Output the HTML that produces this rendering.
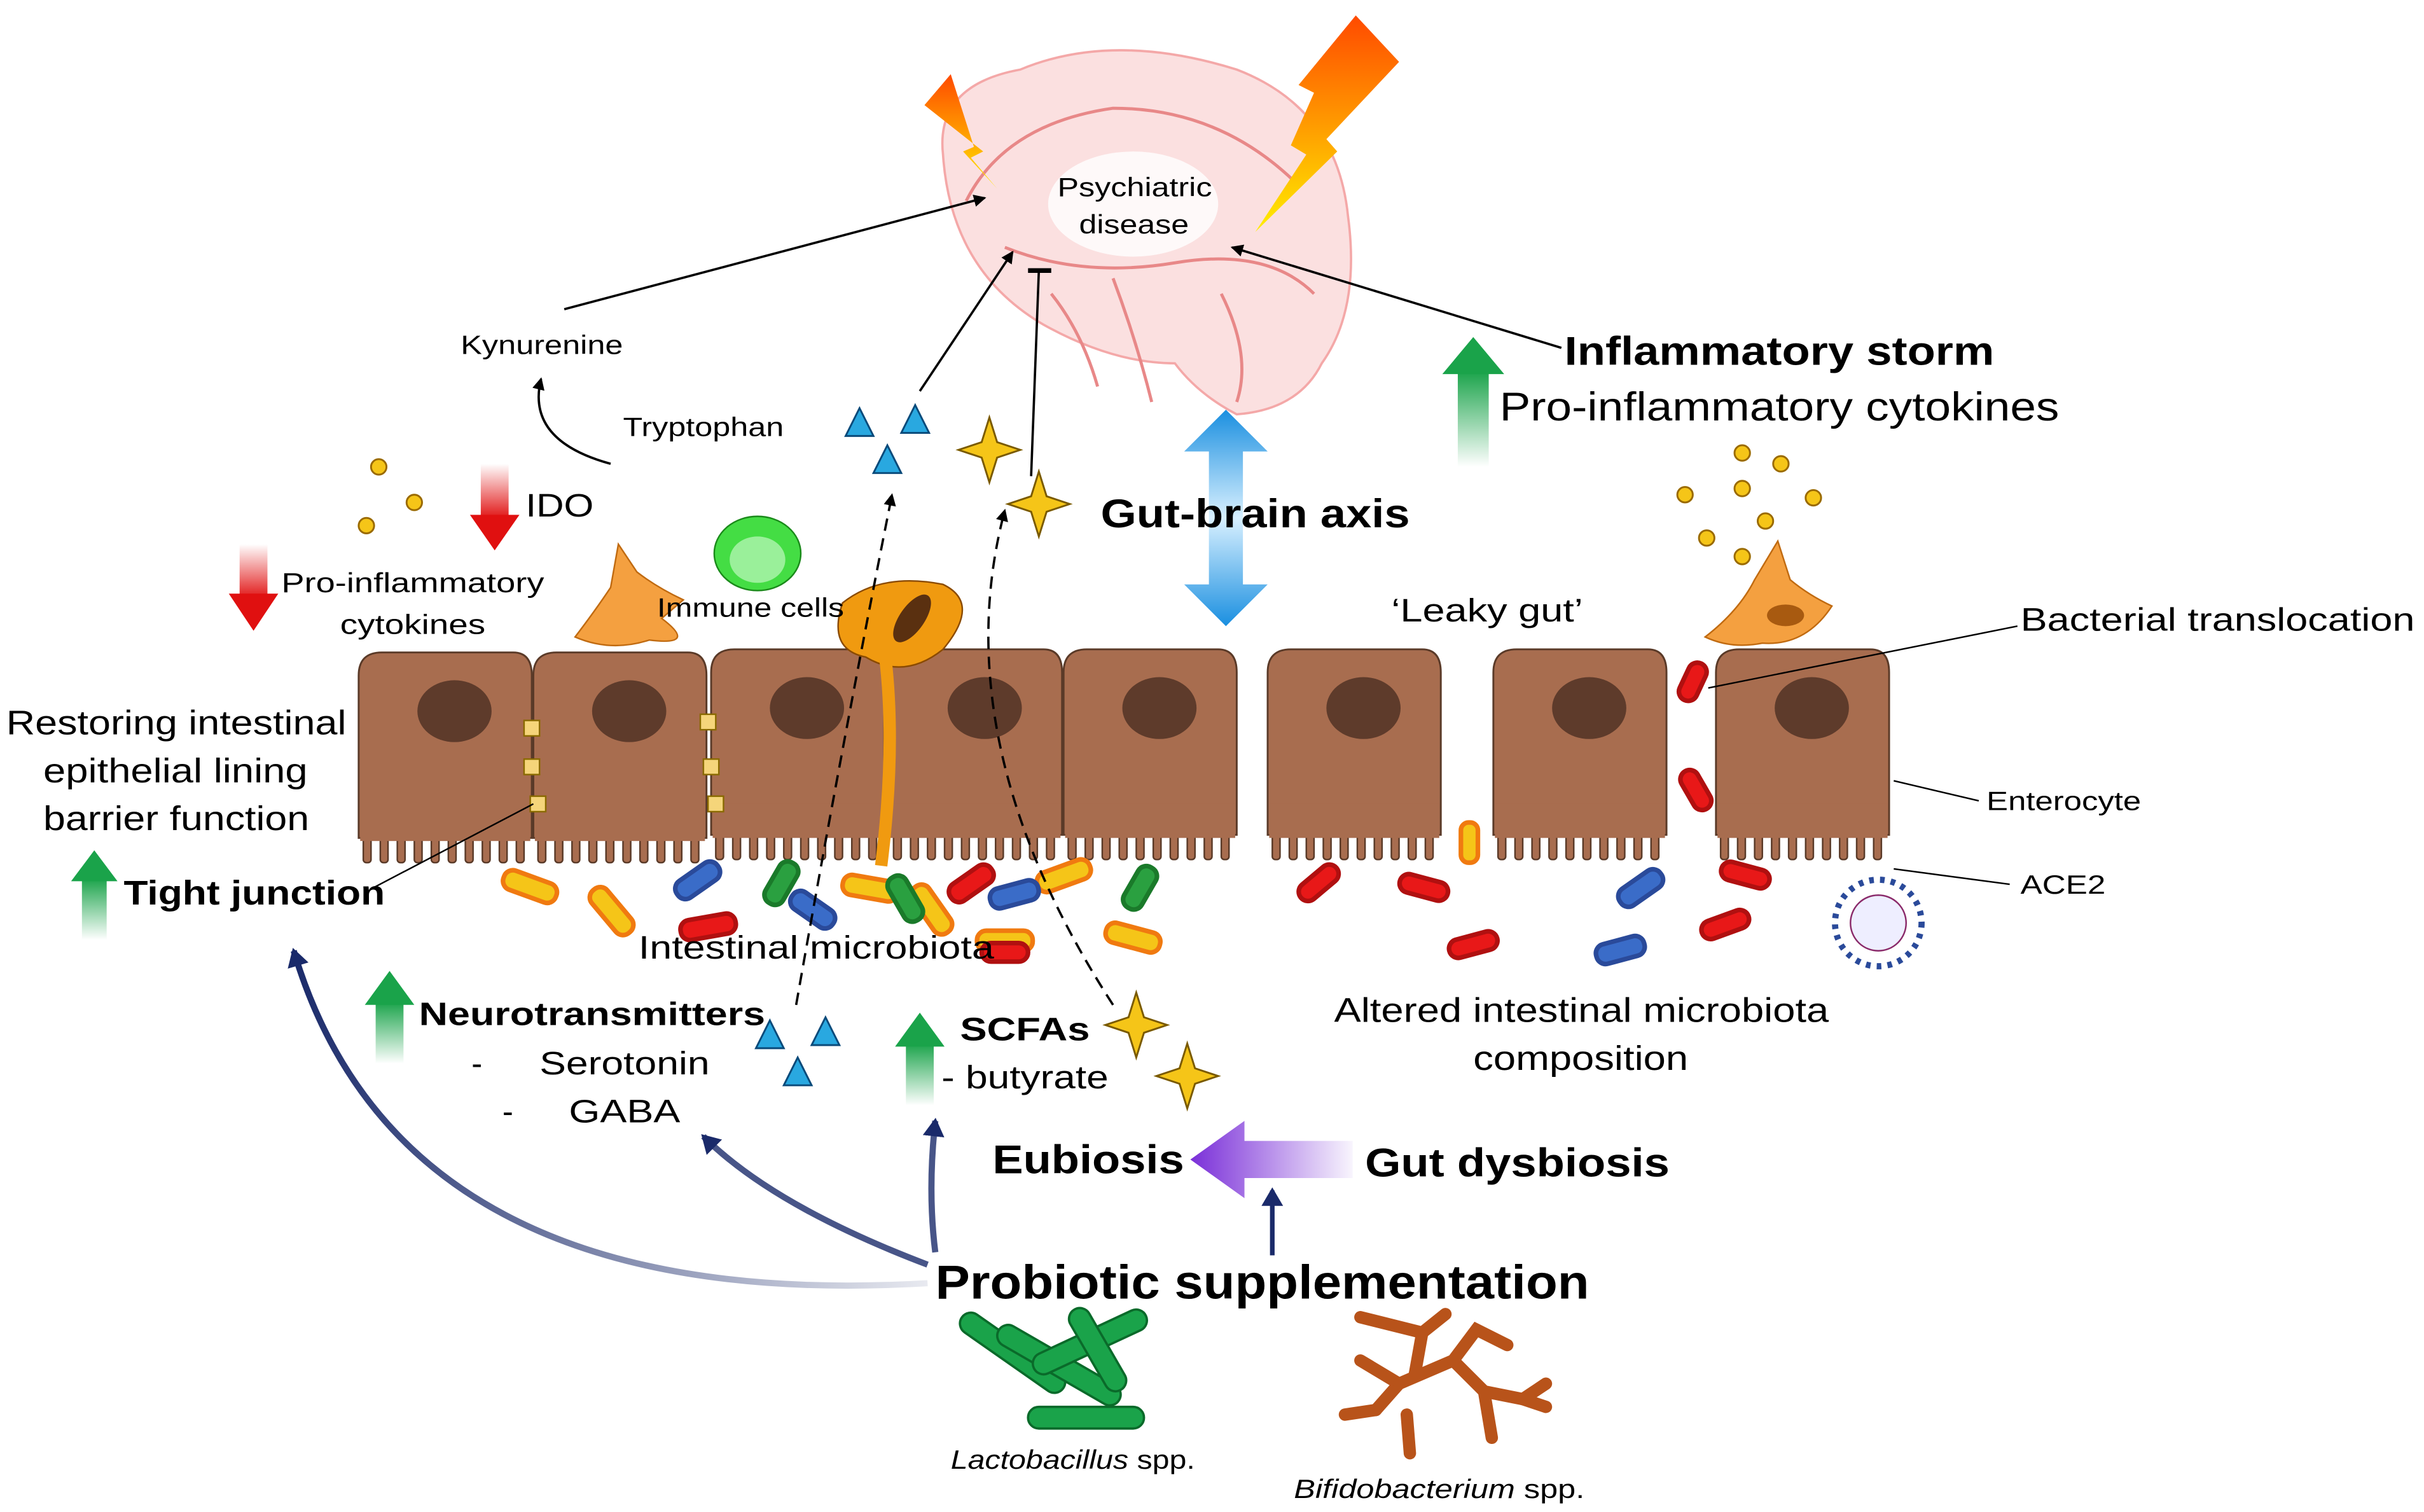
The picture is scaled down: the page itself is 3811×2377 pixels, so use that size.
<!DOCTYPE html>
<html><head><meta charset="utf-8"><style>html,body{margin:0;padding:0;background:#fff}svg{display:block}text{font-family:"Liberation Sans",sans-serif}</style></head><body>
<svg width="3811" height="2377" viewBox="0 0 1568 978" preserveAspectRatio="none" xmlns="http://www.w3.org/2000/svg">
<defs>
<linearGradient id="bolt" x1="0" y1="0" x2="0" y2="1"><stop offset="0" stop-color="#ff4a00"/><stop offset="0.5" stop-color="#ff9a00"/><stop offset="1" stop-color="#ffee00"/></linearGradient>
<linearGradient id="gb" x1="0" y1="0" x2="0" y2="1"><stop offset="0" stop-color="#1a8fe0"/><stop offset="0.5" stop-color="#d8f0ff"/><stop offset="1" stop-color="#1a8fe0"/></linearGradient>
<linearGradient id="gup" x1="0" y1="0" x2="0" y2="1"><stop offset="0" stop-color="#1aa34a"/><stop offset="1" stop-color="#1aa34a" stop-opacity="0"/></linearGradient>
<linearGradient id="rdn" x1="0" y1="1" x2="0" y2="0"><stop offset="0" stop-color="#e01010"/><stop offset="1" stop-color="#e01010" stop-opacity="0"/></linearGradient>
<linearGradient id="pur" x1="0" y1="0" x2="1" y2="0"><stop offset="0" stop-color="#7a2fd8"/><stop offset="1" stop-color="#7a2fd8" stop-opacity="0.05"/></linearGradient>
<linearGradient id="nav1" x1="1" y1="0" x2="0" y2="0"><stop offset="0" stop-color="#1a2a6a" stop-opacity="0.1"/><stop offset="1" stop-color="#1a2a6a"/></linearGradient>
<marker id="ah" markerWidth="8" markerHeight="8" refX="7" refY="4" orient="auto" markerUnits="userSpaceOnUse"><path d="M0,0L8,4L0,8z" fill="#000"/></marker>
<marker id="ahn" markerWidth="14" markerHeight="14" refX="10" refY="7" orient="auto" markerUnits="userSpaceOnUse"><path d="M0,0L12,7L0,14z" fill="#1a2a6a"/></marker>
<g id="cell"><path d="M0,15 Q0,0 15,0 L100,0 Q112,0 112,15 L112,120 L0,120Z" fill="#a86d4f" stroke="#5a3a28" stroke-width="1.2"/>
<g fill="#a86d4f" stroke="#5a3a28" stroke-width="1"><rect x="3" y="118" width="5" height="18" rx="2"/><rect x="14" y="118" width="5" height="18" rx="2"/><rect x="25" y="118" width="5" height="18" rx="2"/><rect x="36" y="118" width="5" height="18" rx="2"/><rect x="47" y="118" width="5" height="18" rx="2"/><rect x="58" y="118" width="5" height="18" rx="2"/><rect x="69" y="118" width="5" height="18" rx="2"/><rect x="80" y="118" width="5" height="18" rx="2"/><rect x="91" y="118" width="5" height="18" rx="2"/><rect x="102" y="118" width="5" height="18" rx="2"/></g>
<rect x="1" y="100" width="110" height="22" fill="#a86d4f"/>
<ellipse cx="62" cy="38" rx="24" ry="20" fill="#5e3b2b"/></g>
</defs>
<!-- brain -->
<path d="M610,100 Q605,55 660,45 Q720,20 800,45 Q865,70 872,140 Q880,200 855,235 Q840,265 800,268 Q775,255 760,235 Q720,235 675,210 Q615,175 610,100Z" fill="#fbe0e0" stroke="#f4a8a8" stroke-width="1.5"/>
<g fill="none" stroke="#e88888" stroke-width="2"><path d="M625,130 Q650,80 720,70 Q790,70 840,120"/><path d="M650,160 Q700,180 760,170 Q820,160 850,190"/><path d="M680,190 Q700,215 710,250"/><path d="M720,180 Q735,220 745,260"/><path d="M790,190 Q810,230 800,260"/></g>
<ellipse cx="733" cy="132" rx="55" ry="34" fill="#fff" opacity="0.8"/>
<text x="684" y="127" font-size="17" textLength="100" lengthAdjust="spacingAndGlyphs">Psychiatric</text><text x="698" y="151" font-size="17" textLength="71" lengthAdjust="spacingAndGlyphs">disease</text>
<path d="M598,68 L615,48 L630,95 L623,98 L645,122 L628,102 L636,98Z" fill="url(#bolt)"/>
<path d="M877,10 L905,40 L858,90 L865,98 L812,150 L845,100 L835,94 L850,60 L840,55Z" fill="url(#bolt)"/>
<!-- arrows to brain -->
<g stroke="#000" stroke-width="1.5" fill="none"><line x1="365" y1="200" x2="637" y2="128" marker-end="url(#ah)"/><line x1="1010" y1="225" x2="797" y2="160" marker-end="url(#ah)"/><line x1="595" y1="253" x2="655" y2="163" marker-end="url(#ah)"/><line x1="667" y1="308" x2="672" y2="175"/><line x1="665" y1="175" x2="680" y2="175" stroke-width="3"/>
<path d="M395,300 Q340,285 350,245" marker-end="url(#ah)"/></g>
<text x="298" y="229" font-size="17" textLength="105" lengthAdjust="spacingAndGlyphs">Kynurenine</text>
<text x="403" y="282" font-size="17" textLength="104" lengthAdjust="spacingAndGlyphs">Tryptophan</text>
<!-- gut-brain -->
<path d="M793,265 L820,292 L804,292 L804,378 L820,378 L793,405 L766,378 L782,378 L782,292 L766,292Z" fill="url(#gb)"/>
<text x="712" y="341" font-size="26" font-weight="bold" textLength="200" lengthAdjust="spacingAndGlyphs">Gut-brain axis</text>
<rect x="943" y="240" width="20" height="62" fill="url(#gup)"/><path d="M933,242 L953,218 L973,242Z" fill="#1aa34a"/>
<text x="1012" y="236" font-size="26" font-weight="bold" textLength="278" lengthAdjust="spacingAndGlyphs">Inflammatory storm</text>
<text x="970" y="272" font-size="26" textLength="362" lengthAdjust="spacingAndGlyphs">Pro-inflammatory cytokines</text>
<!-- left red arrows -->
<rect x="311" y="300" width="18" height="36" fill="url(#rdn)"/><path d="M304,333 L320,356 L336,333Z" fill="#e01010"/>
<text x="340" y="334" font-size="21" textLength="44" lengthAdjust="spacingAndGlyphs">IDO</text>
<rect x="155" y="352" width="18" height="36" fill="url(#rdn)"/><path d="M148,384 L164,408 L180,384Z" fill="#e01010"/>
<text x="182" y="383" font-size="18" textLength="170" lengthAdjust="spacingAndGlyphs">Pro-inflammatory</text><text x="220" y="410" font-size="18" textLength="94" lengthAdjust="spacingAndGlyphs">cytokines</text>
<g fill="#f5c518" stroke="#9a6a00" stroke-width="1.2"><circle cx="245" cy="302" r="5"/><circle cx="268" cy="325" r="5"/><circle cx="237" cy="340" r="5"/>
<circle cx="1127" cy="293" r="5"/><circle cx="1152" cy="300" r="5"/><circle cx="1090" cy="320" r="5"/><circle cx="1127" cy="316" r="5"/><circle cx="1173" cy="322" r="5"/><circle cx="1104" cy="348" r="5"/><circle cx="1142" cy="337" r="5"/><circle cx="1127" cy="360" r="5"/></g>
<!-- cells -->
<use href="#cell" x="232" y="422"/><use href="#cell" x="345" y="422"/><use href="#cell" x="460" y="420"/><use href="#cell" x="575" y="420"/><use href="#cell" x="688" y="420"/><use href="#cell" x="820" y="420"/><use href="#cell" x="966" y="420"/><use href="#cell" x="1110" y="420"/>
<g fill="#f5d57a" stroke="#8a6a00"><rect x="339" y="466" width="10" height="10"/><rect x="339" y="491" width="10" height="10"/><rect x="343" y="515" width="10" height="10"/><rect x="453" y="462" width="10" height="10"/><rect x="455" y="491" width="10" height="10"/><rect x="458" y="515" width="10" height="10"/></g>
<!-- immune cells -->
<path d="M372,412 Q385,395 395,380 L400,352 L412,370 Q425,380 442,388 L428,400 Q452,418 420,414 Q395,422 372,412Z" fill="#f4a040" stroke="#c06a10"/>
<ellipse cx="490" cy="358" rx="28" ry="24" fill="#44dd44" stroke="#1a8a1a"/><ellipse cx="490" cy="362" rx="18" ry="15" fill="#9af09a"/>
<path d="M545,390 Q570,370 610,378 Q635,390 610,420 Q585,440 560,425 Q535,420 545,390Z" fill="#f09a10" stroke="#8a4a00"/>
<path d="M572,420 Q580,480 570,560" stroke="#f09a10" stroke-width="8" fill="none"/>
<ellipse cx="590" cy="400" rx="8" ry="18" transform="rotate(35 590 400)" fill="#5a3010"/>
<text x="425" y="399" font-size="17" textLength="121" lengthAdjust="spacingAndGlyphs">Immune cells</text>
<path d="M1103,412 Q1125,395 1135,375 L1150,350 L1158,375 Q1170,385 1185,392 Q1168,418 1140,416 Q1120,420 1103,412Z" fill="#f4a040" stroke="#c06a10"/><ellipse cx="1155" cy="398" rx="12" ry="7" fill="#a85a10"/>
<text x="900" y="402" font-size="21" textLength="124" lengthAdjust="spacingAndGlyphs">‘Leaky gut’</text>
<text x="1307" y="408" font-size="21" textLength="255" lengthAdjust="spacingAndGlyphs">Bacterial translocation</text><line x1="1305" y1="405" x2="1105" y2="445" stroke="#000"/>
<text x="1285" y="524" font-size="17" textLength="100" lengthAdjust="spacingAndGlyphs">Enterocyte</text><line x1="1280" y1="518" x2="1225" y2="505" stroke="#000"/>
<text x="1307" y="578" font-size="17" textLength="55" lengthAdjust="spacingAndGlyphs">ACE2</text><line x1="1300" y1="572" x2="1225" y2="562" stroke="#000"/>
<circle cx="1215" cy="597" r="28" fill="#fff" stroke="#2a4a9a" stroke-width="4" stroke-dasharray="3 4"/><circle cx="1215" cy="597" r="18" fill="#eef" stroke="#8a2a6a"/>
<!-- bacteria -->
<g stroke-width="3">
<g fill="#f5c518" stroke="#f07a10"><rect x="325" y="567" width="36" height="13" rx="6" transform="rotate(20 343 573)"/><rect x="378" y="583" width="36" height="13" rx="6" transform="rotate(50 396 589)"/><rect x="545" y="568" width="36" height="13" rx="6" transform="rotate(10 563 574)"/><rect x="585" y="582" width="36" height="13" rx="6" transform="rotate(55 603 588)"/><rect x="670" y="560" width="36" height="13" rx="6" transform="rotate(-20 688 566)"/><rect x="715" y="600" width="36" height="13" rx="6" transform="rotate(15 733 606)"/><rect x="632" y="602" width="36" height="13" rx="6" transform="rotate(0 650 608)"/><rect x="938" y="540" width="26" height="11" rx="5" transform="rotate(90 951 545)"/></g>
<g fill="#3a6cc8" stroke="#2a4a9a"><rect x="435" y="563" width="32" height="13" rx="6" transform="rotate(-35 451 569)"/><rect x="510" y="582" width="32" height="13" rx="6" transform="rotate(35 526 588)"/><rect x="640" y="572" width="32" height="13" rx="6" transform="rotate(-15 656 578)"/><rect x="1045" y="568" width="32" height="13" rx="6" transform="rotate(-35 1061 574)"/><rect x="1032" y="608" width="32" height="13" rx="6" transform="rotate(-15 1048 614)"/></g>
<g fill="#e81818" stroke="#b01010"><rect x="440" y="593" width="36" height="13" rx="6" transform="rotate(-10 458 599)"/><rect x="612" y="565" width="32" height="13" rx="6" transform="rotate(-35 628 571)"/><rect x="838" y="565" width="30" height="12" rx="6" transform="rotate(-40 853 571)"/><rect x="905" y="568" width="32" height="12" rx="6" transform="rotate(15 921 574)"/><rect x="937" y="605" width="32" height="12" rx="6" transform="rotate(-15 953 611)"/><rect x="1100" y="592" width="32" height="12" rx="6" transform="rotate(-20 1116 598)"/><rect x="1113" y="560" width="32" height="12" rx="6" transform="rotate(15 1129 566)"/><rect x="1083" y="505" width="28" height="12" rx="6" transform="rotate(60 1097 511)"/><rect x="1082" y="435" width="26" height="12" rx="6" transform="rotate(-65 1095 441)"/><rect x="635" y="610" width="30" height="12" rx="6"/></g>
<g fill="#2aa040" stroke="#1a7a2a"><rect x="490" y="565" width="30" height="13" rx="6" transform="rotate(-60 505 571)"/><rect x="570" y="575" width="32" height="13" rx="6" transform="rotate(60 586 581)"/><rect x="722" y="568" width="30" height="13" rx="6" transform="rotate(-60 737 574)"/></g>
</g>
<text x="413" y="620" font-size="21" textLength="230" lengthAdjust="spacingAndGlyphs">Intestinal microbiota</text>
<!-- dashed pathways -->
<g stroke="#000" stroke-width="1.5" fill="none" stroke-dasharray="8 5"><path d="M515,650 Q545,480 577,320" marker-end="url(#ah)"/><path d="M720,650 Q610,480 650,330" marker-end="url(#ah)"/></g>
<g fill="#29a8e0" stroke="#0a4a7a" stroke-width="1.2"><path d="M556,264 L565,282 L547,282Z"/><path d="M592,262 L601,280 L583,280Z"/><path d="M574,288 L583,306 L565,306Z"/><path d="M498,660 L507,678 L489,678Z"/><path d="M534,658 L543,676 L525,676Z"/><path d="M516,684 L525,702 L507,702Z"/></g>
<g fill="#f5c518" stroke="#7a5a00" stroke-width="1.2"><path d="M640,270 L645,286 L660,291 L645,296 L640,312 L635,296 L620,291 L635,286Z"/><path d="M672,305 L677,321 L692,326 L677,331 L672,347 L667,331 L652,326 L667,321Z"/><path d="M735,642 L740,658 L755,663 L740,668 L735,684 L730,668 L715,663 L730,658Z"/><path d="M768,675 L773,691 L788,696 L773,701 L768,717 L763,701 L748,696 L763,691Z"/></g>
<!-- left texts -->
<text x="4" y="475" font-size="22" textLength="220" lengthAdjust="spacingAndGlyphs">Restoring intestinal</text>
<text x="28" y="506" font-size="22" textLength="171" lengthAdjust="spacingAndGlyphs">epithelial lining</text>
<text x="28" y="537" font-size="22" textLength="172" lengthAdjust="spacingAndGlyphs">barrier function</text>
<line x1="240" y1="575" x2="345" y2="520" stroke="#000"/>
<rect x="53" y="568" width="16" height="40" fill="url(#gup)"/><path d="M46,570 L61,550 L76,570Z" fill="#1aa34a"/>
<text x="80" y="585" font-size="22" font-weight="bold" textLength="169" lengthAdjust="spacingAndGlyphs">Tight junction</text>
<rect x="243" y="648" width="18" height="40" fill="url(#gup)"/><path d="M236,650 L252,628 L268,650Z" fill="#1aa34a"/>
<text x="271" y="663" font-size="21" font-weight="bold" textLength="224" lengthAdjust="spacingAndGlyphs">Neurotransmitters</text>
<text x="305" y="695" font-size="21">-</text><text x="349" y="695" font-size="21" textLength="110" lengthAdjust="spacingAndGlyphs">Serotonin</text>
<text x="325" y="726" font-size="21">-</text><text x="368" y="726" font-size="21" textLength="72" lengthAdjust="spacingAndGlyphs">GABA</text>
<rect x="586" y="675" width="18" height="40" fill="url(#gup)"/><path d="M579,677 L595,655 L611,677Z" fill="#1aa34a"/>
<text x="621" y="673" font-size="21" font-weight="bold" textLength="84" lengthAdjust="spacingAndGlyphs">SCFAs</text>
<text x="609" y="704" font-size="21" textLength="108" lengthAdjust="spacingAndGlyphs">- butyrate</text>
<text x="863" y="661" font-size="22" textLength="320" lengthAdjust="spacingAndGlyphs">Altered intestinal microbiota</text>
<text x="953" y="692" font-size="22" textLength="139" lengthAdjust="spacingAndGlyphs">composition</text>
<!-- eubiosis -->
<text x="642" y="759" font-size="26" font-weight="bold" textLength="124" lengthAdjust="spacingAndGlyphs">Eubiosis</text>
<path d="M770,750 L805,725 L805,738 L875,738 L875,762 L805,762 L805,775Z" fill="url(#pur)"/>
<text x="883" y="761" font-size="26" font-weight="bold" textLength="197" lengthAdjust="spacingAndGlyphs">Gut dysbiosis</text>
<line x1="823" y1="812" x2="823" y2="770" stroke="#1a2a6a" stroke-width="3" marker-end="url(#ahn)"/>
<g fill="none" stroke-width="4"><path d="M600,830 Q260,850 190,615" stroke="url(#nav1)" marker-end="url(#ahn)"/><path d="M600,818 Q500,780 455,735" stroke="#1a2a6a" stroke-opacity="0.8" marker-end="url(#ahn)"/><path d="M605,810 Q600,770 605,725" stroke="#1a2a6a" stroke-opacity="0.8" marker-end="url(#ahn)"/></g>
<text x="605" y="840" font-size="31" font-weight="bold" textLength="423" lengthAdjust="spacingAndGlyphs">Probiotic supplementation</text>
<!-- probiotics -->
<g fill="#1aa34a" stroke="#0a6a2a" stroke-width="1.5"><rect x="615" y="868" width="80" height="14" rx="7" transform="rotate(35 655 875)"/><rect x="640" y="876" width="90" height="14" rx="7" transform="rotate(30 685 883)"/><rect x="665" y="861" width="80" height="14" rx="7" transform="rotate(-25 705 868)"/><rect x="665" y="910" width="75" height="14" rx="7"/><rect x="680" y="866" width="60" height="14" rx="7" transform="rotate(60 710 873)"/></g>
<g stroke="#b8531a" stroke-width="8" stroke-linecap="round" fill="none"><path d="M880,852 L920,862 L935,850"/><path d="M880,880 L905,895 L890,912"/><path d="M905,895 L940,880 L960,900"/><path d="M920,862 L915,890"/><path d="M940,880 L955,860 L975,870"/><path d="M960,900 L985,905 L1000,895"/><path d="M960,900 L965,930"/><path d="M910,915 L912,940"/><path d="M870,915 L890,912"/><path d="M985,905 L1000,910"/></g>
<text x="615" y="950" font-size="17" font-style="italic" textLength="158" lengthAdjust="spacingAndGlyphs">Lactobacillus<tspan font-style="normal"> spp.</tspan></text>
<text x="837" y="969" font-size="17" font-style="italic" textLength="188" lengthAdjust="spacingAndGlyphs">Bifidobacterium<tspan font-style="normal"> spp.</tspan></text>
</svg>
</body></html>
